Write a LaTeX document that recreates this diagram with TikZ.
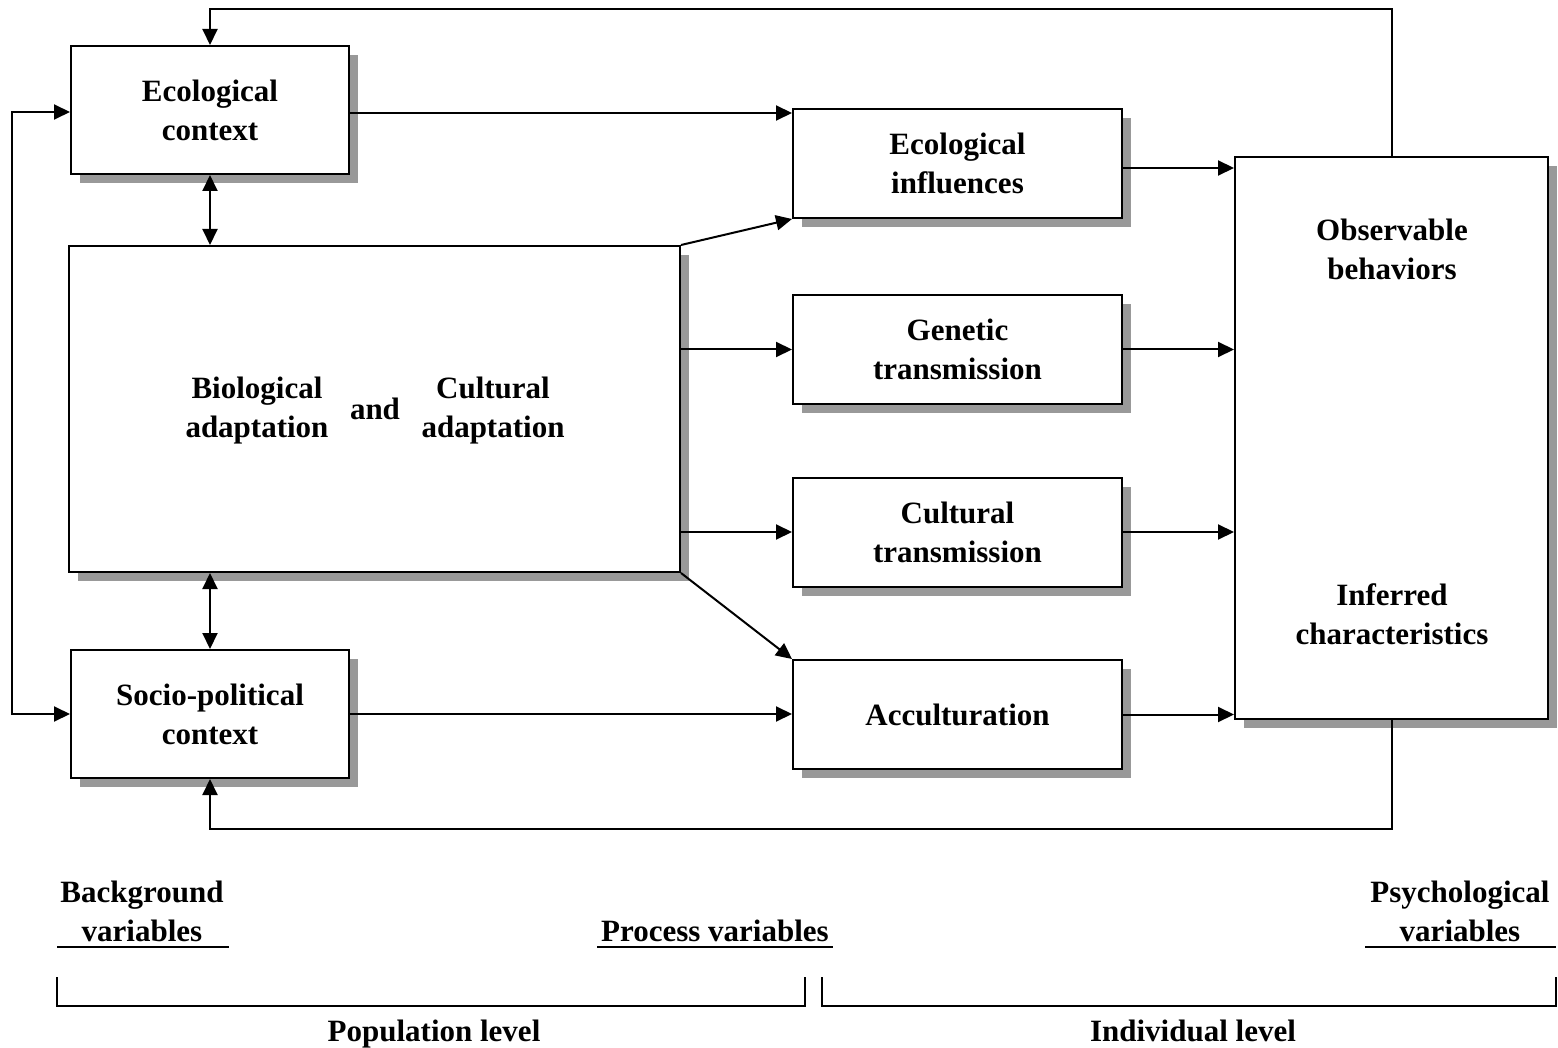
\documentclass[tikz,border=0pt]{standalone}
\usepackage{fontspec}
\setmainfont{Liberation Serif}
\usetikzlibrary{arrows.meta,shadows}
\definecolor{shade}{HTML}{999999}
\tikzset{
  box/.style={draw=black, line width=2pt, fill=white, rectangle, inner sep=0pt,
    drop shadow={shadow xshift=9pt, shadow yshift=-9pt, fill=shade, opacity=1}},
  lbl/.style={align=center, inner sep=0pt, font=\fontsize{31}{39}\selectfont\bfseries},
  con/.style={line width=2pt, -{Triangle[length=16pt,width=15pt]}},
  con2/.style={line width=2pt, {Triangle[length=16pt,width=15pt]}-{Triangle[length=16pt,width=15pt]}},
  thin/.style={line width=1.6pt}
}
\begin{document}
\begin{tikzpicture}[x=1pt,y=-1pt]
\useasboundingbox (0,0) rectangle (1558,1048);
% boxes
\node[box, minimum width=278pt, minimum height=128pt] (eco) at (210,110) {};
\node[box, minimum width=611pt, minimum height=326pt] (big) at (374.5,409) {};
\node[box, minimum width=278pt, minimum height=128pt] (soc) at (210,714) {};
\node[box, minimum width=329pt, minimum height=109pt] (einf) at (957.5,163.5) {};
\node[box, minimum width=329pt, minimum height=109pt] (gen) at (957.5,349.5) {};
\node[box, minimum width=329pt, minimum height=109pt] (cul) at (957.5,532) {};
\node[box, minimum width=329pt, minimum height=109pt] (acc) at (957.5,714.5) {};
\node[box, minimum width=313pt, minimum height=562pt] (rbox) at (1391.5,438) {};
% texts
\node[lbl] (ecoT) at (eco.center) {Ecological\\context};
\node[lbl] (socT) at (soc.center) {Socio-political\\context};
\node[lbl] (bioT) at (257,411) {Biological\\adaptation};
\node[lbl] (andT) at (375,409) {and};
\node[lbl] (culT) at (493,411) {Cultural\\adaptation};
\node[lbl] (einfT) at (einf.center) {Ecological\\influences};
\node[lbl] (genT) at (gen.center) {Genetic\\transmission};
\node[lbl] (culTT) at (cul.center) {Cultural\\transmission};
\node[lbl] (accT) at (acc.center) {Acculturation};
\node[lbl] (obsT) at (1392,249) {Observable\\behaviors};
\node[lbl] (infT) at (1392,614) {Inferred\\characteristics};
% connectors
\draw[con] (rbox.north) -- ++(0,-147) -| (eco.north);
\draw[con2] ([yshift=-2pt]eco.west) -- ++(-58,0) |- (soc.west);
\draw[con2] (eco.south) -- (big.north -| eco.south);
\draw[con2] (big.south -| soc.north) -- (soc.north);
\draw[con] ([yshift=-3pt]eco.east) -- ([yshift=-3pt]eco.east -| einf.west);
\draw[con] (big.north east) -- (einf.south west);
\draw[con] (big.east |- gen.west) -- (gen.west);
\draw[con] (big.east |- cul.west) -- (cul.west);
\draw[con] (big.south east) -- (acc.north west);
\draw[con] (soc.east) -- (soc.east -| acc.west);
\draw[con] ([yshift=-4.5pt]einf.east) -- ([yshift=-4.5pt]einf.east -| rbox.west);
\draw[con] (gen.east) -- (gen.east -| rbox.west);
\draw[con] (cul.east) -- (cul.east -| rbox.west);
\draw[con] (acc.east) -- (acc.east -| rbox.west);
\draw[con] (rbox.south) -- ++(0,109) -| (soc.south);
% bottom labels
\node[lbl] (bgT) at (142,911) {Background\\variables};
\node[lbl, anchor=base] (prT) at (715,941) {Process variables};
\node[lbl] (psT) at (1460,911) {Psychological\\variables};
\coordinate (u1a) at (57,947); \coordinate (u1b) at (229,947);
\coordinate (u2a) at (597,947); \coordinate (u2b) at (833,947);
\coordinate (u3a) at (1365,947); \coordinate (u3b) at (1556,947);
\draw[thin] (u1a) -- (u1b);
\draw[thin] (u2a) -- (u2b);
\draw[thin] (u3a) -- (u3b);
\coordinate (b1a) at (57,977); \coordinate (b1b) at (805,977);
\coordinate (b2a) at (822,977); \coordinate (b2b) at (1556,977);
\draw[thin] (b1a) -- ++(0,29) -| (b1b);
\draw[thin] (b2a) -- ++(0,29) -| (b2b);
\node[lbl, anchor=base] (popT) at (434,1041) {Population level};
\node[lbl, anchor=base] (indT) at (1193,1041) {Individual level};
\end{tikzpicture}
\end{document}
